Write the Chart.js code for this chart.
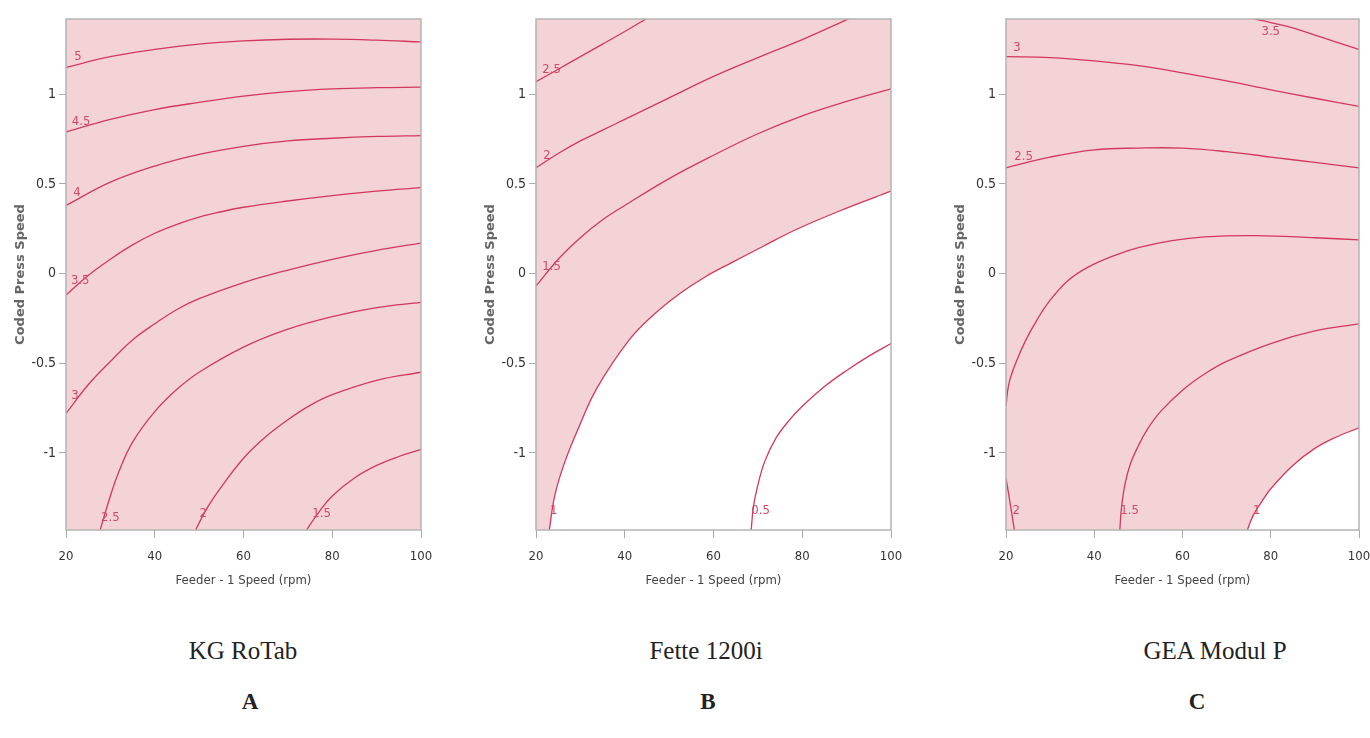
<!DOCTYPE html>
<html>
<head>
<meta charset="utf-8">
<script src="https://cdn.jsdelivr.net/npm/chart.js@4.4.0/dist/chart.umd.min.js"></script>
<style>
  body { margin: 0; background: #fff; width: 1370px; height: 738px; position: relative; overflow: hidden; }
  canvas { position: absolute; top: 0; }
  .cap { position: absolute; font-family: 'Liberation Serif', serif; font-size: 25px; color: #222; transform: translateX(-50%); white-space: nowrap; }
  .let { position: absolute; font-family: 'Liberation Serif', serif; font-size: 23px; font-weight: bold; color: #222; transform: translateX(-50%); }
</style>
</head>
<body>
<canvas id="chartA" width="440" height="600" style="left:0px"></canvas>
<canvas id="chartB" width="440" height="600" style="left:470px"></canvas>
<canvas id="chartC" width="440" height="600" style="left:940px"></canvas>

<div class="cap" style="left:243px;top:637px">KG RoTab</div>
<div class="cap" style="left:706px;top:637px">Fette 1200i</div>
<div class="cap" style="left:1215px;top:637px">GEA Modul P</div>
<div class="let" style="left:250px;top:689px">A</div>
<div class="let" style="left:708px;top:689px">B</div>
<div class="let" style="left:1197px;top:689px">C</div>

<script>
const xTicks = [20, 40, 60, 80, 100];
const yTicks = [-1, -0.5, 0, 0.5, 1];

// KG RoTab contours [feeder speed, coded press speed]
const rotab5 = [[20,1.15],[30,1.21],[40,1.25],[50,1.28],[60,1.298],[70,1.307],[80,1.308],[90,1.302],[100,1.292]];
const rotab45 = [[20,0.79],[30,0.86],[40,0.915],[50,0.955],[60,0.99],[70,1.015],[80,1.03],[90,1.037],[100,1.04]];
const rotab4 = [[20,0.38],[30,0.51],[40,0.60],[50,0.665],[60,0.71],[70,0.74],[80,0.755],[90,0.765],[100,0.77]];
const rotab35 = [[20,-0.12],[25,-0.01],[30,0.08],[35,0.16],[40,0.225],[45,0.275],[50,0.315],[55,0.345],[60,0.37],[70,0.405],[80,0.435],[90,0.46],[100,0.48]];
const rotab3 = [[20,-0.78],[25,-0.62],[30,-0.49],[35,-0.37],[40,-0.28],[45,-0.20],[50,-0.14],[60,-0.05],[70,0.02],[80,0.08],[90,0.13],[100,0.17]];
const rotab25 = [[27.4,-1.46],[27.7,-1.43],[30,-1.24],[32,-1.10],[35,-0.94],[40,-0.77],[45,-0.645],[50,-0.55],[60,-0.41],[70,-0.31],[80,-0.24],[90,-0.19],[100,-0.16]];
const rotab2 = [[48.8,-1.46],[49.2,-1.43],[52,-1.30],[55,-1.19],[60,-1.03],[65,-0.91],[70,-0.815],[75,-0.735],[80,-0.675],[90,-0.595],[100,-0.55]];
const rotab15 = [[73.5,-1.46],[74.2,-1.43],[77,-1.33],[80,-1.24],[85,-1.14],[90,-1.07],[95,-1.02],[100,-0.98]];
const rotabLabels = [[22.7,1.21,'5'],[23.4,0.85,'4.5'],[22.5,0.45,'4'],[23.2,-0.04,'3.5'],[22,-0.68,'3'],[30,-1.36,'2.5'],[50.9,-1.34,'2'],[77.6,-1.34,'1.5']];

// Fette 1200i contours
const fette25 = [[20,1.07],[25,1.14],[30,1.21],[35,1.28],[40,1.35],[44.8,1.42],[47,1.45]];
const fette2 = [[20,0.59],[25,0.67],[30,0.74],[35,0.80],[40,0.86],[50,0.98],[60,1.10],[70,1.205],[80,1.305],[88.6,1.40],[92,1.44]];
const fette15 = [[20,-0.07],[25,0.08],[30,0.20],[35,0.30],[40,0.38],[50,0.53],[60,0.66],[70,0.78],[80,0.88],[90,0.96],[100,1.03]];
const fette1 = [[22.9,-1.46],[23,-1.43],[24.3,-1.23],[26.5,-1.05],[29.6,-0.86],[33.7,-0.64],[41,-0.37],[46.5,-0.23],[52.5,-0.11],[58,-0.02],[64,0.06],[71,0.15],[79,0.25],[90,0.365],[100,0.46]];
const fette05 = [[68.4,-1.46],[68.5,-1.43],[69,-1.30],[70,-1.18],[71.5,-1.05],[74,-0.92],[77,-0.82],[80,-0.74],[85,-0.63],[90,-0.54],[95,-0.46],[100,-0.39]];
const fetteLabels = [[23.5,1.14,'2.5'],[22.5,0.66,'2'],[23.5,0.04,'1.5'],[24,-1.32,'1'],[70.6,-1.32,'0.5']];

// GEA Modul P contours
const gea35 = [[74,1.44],[76.6,1.42],[80,1.40],[85,1.37],[90,1.33],[95,1.29],[100,1.25]];
const gea3 = [[20,1.21],[30,1.205],[40,1.187],[50,1.16],[60,1.12],[70,1.075],[80,1.025],[90,0.978],[100,0.933]];
const gea25 = [[20,0.59],[30,0.65],[40,0.69],[50,0.70],[60,0.70],[70,0.68],[80,0.65],[90,0.62],[100,0.59]];
const gea2 = [[20,-0.74],[20.6,-0.62],[22.1,-0.505],[24.4,-0.375],[27.1,-0.255],[29.8,-0.155],[34,-0.04],[38.5,0.035],[45,0.105],[50,0.145],[57.6,0.184],[65,0.205],[76.6,0.212],[90,0.20],[100,0.188]];
const gea2b = [[20,-1.14],[21,-1.29],[21.9,-1.43],[22.1,-1.46]];
const gea15 = [[45.8,-1.46],[45.8,-1.43],[46.2,-1.30],[47,-1.17],[48.2,-1.06],[50,-0.96],[52,-0.87],[55,-0.77],[60,-0.65],[65,-0.56],[70,-0.49],[80,-0.39],[90,-0.32],[100,-0.28]];
const gea1 = [[74.2,-1.46],[74.7,-1.43],[76,-1.35],[78,-1.27],[80,-1.20],[85,-1.07],[90,-0.975],[95,-0.91],[100,-0.86]];
const geaLabels = [[80,1.35,'3.5'],[22.5,1.26,'3'],[24,0.65,'2.5'],[22.3,-1.32,'2'],[48,-1.32,'1.5'],[76.8,-1.32,'1']];

const pink = '#f4d3d7';
const lineColor = '#d2385e';
const tickFont = "'Liberation Sans Narrow', 'DejaVu Sans Condensed', sans-serif";

function makePanel(id, contours, whiteContour, labels, padRight) {
    const datasets = contours.map(c => ({
        data: c.map(p => ({ x: p[0], y: p[1] })),
        showLine: true,
        borderColor: lineColor,
        borderWidth: 1.3,
        pointRadius: 0,
        tension: 0.4,
        fill: c === whiteContour ? 'start' : false,
        backgroundColor: '#ffffff'
    }));

    const frame = {
        id: 'frame',
        beforeDraw(chart) {
            const a = chart.chartArea, ctx = chart.ctx;
            ctx.save();
            ctx.fillStyle = pink;
            ctx.fillRect(a.left, a.top, a.right - a.left, a.bottom - a.top);
            ctx.restore();
        },
        afterDatasetsDraw(chart) {
            const a = chart.chartArea, ctx = chart.ctx;
            const xs = chart.scales.x, ys = chart.scales.y;
            ctx.save();
            ctx.font = "13px " + tickFont;
            ctx.fillStyle = '#d04a68';
            ctx.textAlign = 'center';
            ctx.textBaseline = 'middle';
            labels.forEach(l => {
                ctx.fillText(l[2], xs.getPixelForValue(l[0]), ys.getPixelForValue(l[1]));
            });
            ctx.strokeStyle = '#b4b4b4';
            ctx.lineWidth = 1.5;
            ctx.strokeRect(a.left, a.top, a.right - a.left, a.bottom - a.top);
            ctx.restore();
        }
    };

    return new Chart(document.getElementById(id), {
        type: 'scatter',
        data: { datasets: datasets },
        options: {
            responsive: false,
            animation: false,
            devicePixelRatio: 1,
            layout: { padding: { top: 19, right: padRight, left: 0, bottom: 12 } },
            plugins: {
                legend: { display: false },
                tooltip: { enabled: false },
                filler: { drawTime: 'beforeDatasetsDraw' }
            },
            scales: {
                x: {
                    type: 'linear',
                    min: 20,
                    max: 100,
                    afterBuildTicks: s => { s.ticks = xTicks.map(v => ({ value: v })); },
                    afterFit: s => { s.height = 58; s.paddingLeft = 0; s.paddingRight = 0; },
                    grid: { drawOnChartArea: false, tickLength: 8, color: '#aaaaaa' },
                    border: { display: false },
                    ticks: { font: { family: tickFont, size: 13 }, color: '#333', padding: 11, maxRotation: 0 },
                    title: { display: true, text: 'Feeder - 1 Speed (rpm)', font: { family: tickFont, size: 13 }, color: '#444', padding: { top: 0, bottom: 0 } }
                },
                y: {
                    type: 'linear',
                    min: -1.43,
                    max: 1.42,
                    afterBuildTicks: s => { s.ticks = yTicks.map(v => ({ value: v })); },
                    afterFit: s => { s.width = 66; },
                    grid: { drawOnChartArea: false, tickLength: 7, color: '#aaaaaa' },
                    border: { display: false },
                    ticks: { font: { family: tickFont, size: 14 }, color: '#333', padding: 3, callback: v => String(v) },
                    title: { display: true, text: 'Coded Press Speed', font: { family: "'DejaVu Sans', sans-serif", size: 13, weight: 'bold' }, color: '#666', padding: { top: 13, bottom: 0 } }
                }
            }
        },
        plugins: [frame]
    });
}

makePanel('chartA', [rotab5, rotab45, rotab4, rotab35, rotab3, rotab25, rotab2, rotab15], null, rotabLabels, 19);
makePanel('chartB', [fette25, fette2, fette15, fette1, fette05], fette1, fetteLabels, 19);
makePanel('chartC', [gea35, gea3, gea25, gea2, gea2b, gea15, gea1], gea1, geaLabels, 21);
</script>
</body>
</html>
